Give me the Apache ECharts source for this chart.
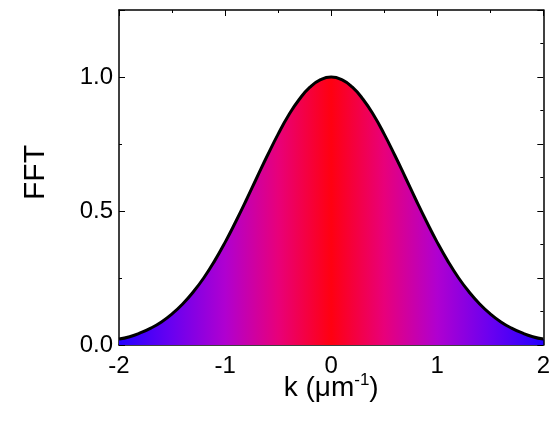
<!DOCTYPE html>
<html><head><meta charset="utf-8">
<script src="https://cdn.jsdelivr.net/npm/echarts@6/dist/echarts.min.js"></script>
<style>html,body{margin:0;padding:0;background:#fff}#c{width:553px;height:433px}</style>
</head><body><div id="c"></div>
<script>
// k values (µm^-1)
const kValues = [-2.0,-1.9,-1.8,-1.7,-1.6,-1.5,-1.4,-1.3,-1.2,-1.1,-1.0,-0.9,-0.8,-0.7,-0.6,-0.5,-0.4,-0.3,-0.2,-0.1,
  0.0,0.1,0.2,0.3,0.4,0.5,0.6,0.7,0.8,0.9,1.0,1.1,1.2,1.3,1.4,1.5,1.6,1.7,1.8,1.9,2.0];
// FFT amplitude
const fftValues = [0.022,0.031,0.045,0.063,0.086,0.116,0.153,0.198,0.251,0.313,0.383,0.460,0.541,0.625,0.708,0.787,0.858,0.917,0.962,0.990,
  1.000,0.990,0.962,0.917,0.858,0.787,0.708,0.625,0.541,0.460,0.383,0.313,0.251,0.198,0.153,0.116,0.086,0.063,0.045,0.031,0.022];
const xTicks = [-2,-1,0,1,2];
const yTickLabels = ['0.0','0.5','1.0'];

const chart = echarts.init(document.getElementById('c'));
const font = 'Liberation Sans, Arial, sans-serif';
const axisLine = {show:true, onZero:false, lineStyle:{color:'#000', width:1.5}};
const data = kValues.map((k,i)=>[k, fftValues[i]]);
chart.setOption({
  animation:false,
  grid:{left:119, right:5, top:10, bottom:88},
  xAxis:[{
    type:'value', min:-2, max:2, interval:1, position:'bottom',
    axisLine, axisTick:{inside:true, length:6, lineStyle:{color:'#000', width:1}},
    minorTick:{show:true, splitNumber:2, length:3, lineStyle:{color:'#000'}},
    splitLine:{show:false},
    axisLabel:{color:'#000', fontSize:24, fontFamily:font, margin:9,
      formatter:v=> xTicks.includes(v) ? String(v) : ''},
    name:'{a|k (\u03bcm}{s|-1}{a|)}', nameLocation:'middle', nameGap:27, nameMoveOverlap:false,
    nameTextStyle:{rich:{a:{fontSize:28, fontFamily:font, color:'#000'}, s:{fontSize:17, fontFamily:font, color:'#000', verticalAlign:'top', padding:[0,0,16,0]}}}
  },{
    type:'value', min:-2, max:2, interval:1, position:'top',
    axisLine, axisTick:{inside:true, length:6, lineStyle:{color:'#000', width:1}},
    minorTick:{show:true, splitNumber:2, length:3, lineStyle:{color:'#000'}},
    splitLine:{show:false}, axisLabel:{show:false}
  }],
  yAxis:[{
    type:'value', min:0, max:1.25, interval:0.5, position:'left',
    axisLine, axisTick:{inside:true, length:6, lineStyle:{color:'#000', width:1}},
    minorTick:{show:true, splitNumber:2, length:3, lineStyle:{color:'#000'}},
    splitLine:{show:false},
    axisLabel:{color:'#000', fontSize:24, fontFamily:font, margin:6,
      formatter:v=> yTickLabels.includes(v.toFixed(1)) ? v.toFixed(1) : ''},
    name:'FFT', nameLocation:'middle', nameGap:68, nameRotate:90, nameMoveOverlap:false,
    nameTextStyle:{fontSize:30, fontFamily:font, color:'#000', padding:[0,0,0,10]}
  },{
    type:'value', min:0, max:1.25, interval:0.25, position:'right',
    axisLine, axisTick:{inside:true, length:6, lineStyle:{color:'#000', width:1}},
    minorTick:{show:true, splitNumber:2, length:3, lineStyle:{color:'#000'}},
    splitLine:{show:false}, axisLabel:{show:false}
  }],
  series:[{
    type:'line', data, smooth:true, symbol:'none', xAxisIndex:0, yAxisIndex:0,
    lineStyle:{color:'#000', width:3},
    areaStyle:{opacity:1, color:new echarts.graphic.LinearGradient(0,0,1,0,[
      {offset:0, color:'#2400ff'},
      {offset:0.125, color:'#6a00f0'},
      {offset:0.25, color:'#b000d0'},
      {offset:0.375, color:'#e8007a'},
      {offset:0.5, color:'#ff0010'},
      {offset:0.625, color:'#e8007a'},
      {offset:0.75, color:'#b000d0'},
      {offset:0.875, color:'#6a00f0'},
      {offset:1, color:'#2400ff'}
    ])}
  }]
});
</script></body></html>
